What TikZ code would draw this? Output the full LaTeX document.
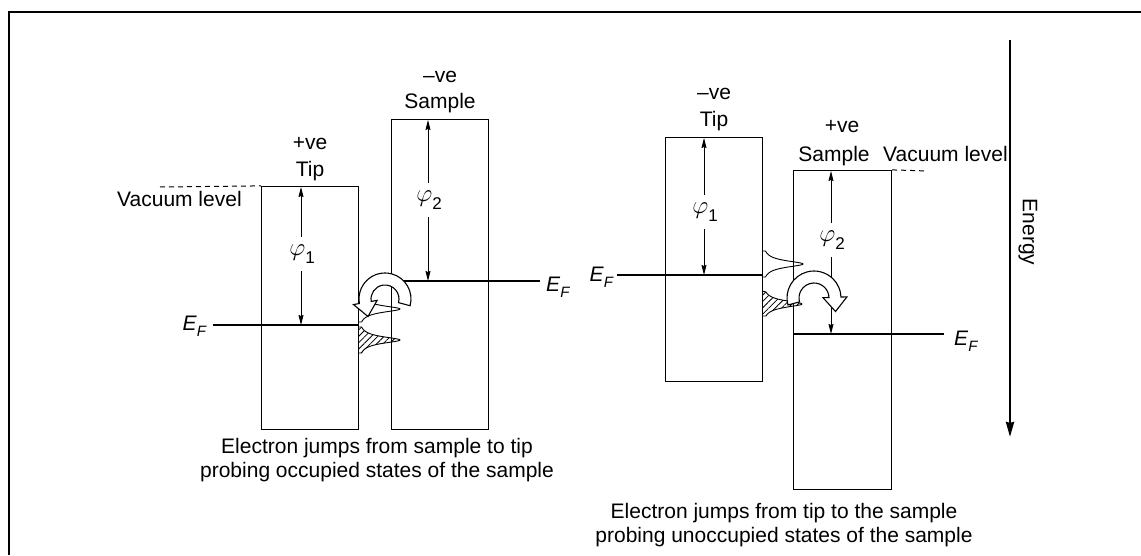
\documentclass[tikz,border=0pt]{standalone}
\usepackage{fontspec}
\setmainfont{Liberation Sans}
\usetikzlibrary{arrows.meta,patterns.meta}
\newcommand{\EFlab}{\textit{E}\raisebox{-0.28em}{\fontsize{15}{15}\selectfont\textit{F}}}
\newcommand{\philab}[1]{{\fontsize{28}{28}\selectfont$\varphi$}\raisebox{-0.35em}{\fontsize{17}{17}\selectfont #1}}
\begin{document}
\begin{tikzpicture}[x=1pt,y=1pt,
  font=\fontsize{21}{24.5}\selectfont,
  band/.style={draw=black,line width=1.1pt},
  lvl/.style={draw=black,line width=1.1pt},
  vac/.style={draw=black,line width=1pt,dash pattern=on 5pt off 4pt},
  txt/.style={inner sep=0pt,anchor=base},
  philabel/.style={inner sep=0pt,minimum height=34pt,minimum width=14pt},
  phiarr/.style={draw=black,line width=0.9pt,-{Stealth[length=10pt,width=5pt,inset=1pt]}},
  dos/.style={draw=black,line width=0.9pt},
  hatch/.style={pattern={Lines[angle=45,distance=4.5pt,line width=0.8pt]}},
  curvarr/.style={draw=black,line width=1.1pt,fill=white,line join=miter},
  energyarr/.style={draw=black,line width=2.6pt,-{Stealth[length=15pt,width=8pt,inset=1pt]}}
]
\useasboundingbox (0,0) rectangle (1141,555);
% frame (top and left edges)
\draw[line width=1.4pt] (9,0) -- (9,543) -- (1141,543);

% ================= LEFT PANEL =================
\node[band,inner sep=0pt,minimum width=97pt,minimum height=243pt,anchor=south west] (tipL) at (261,125) {};
\node[band,inner sep=0pt,minimum width=97pt,minimum height=310pt,anchor=south west] (smpL) at (391,125) {};
\node[txt] (pveL) at (310,405) {+ve};
\node[txt] (tipLtxt) at (310,378) {Tip};
\node[txt] (nveL) at (440,472) {–ve};
\node[txt] (smpLtxt) at (440,446) {Sample};
\node[txt,anchor=base west] (vacLtxt) at (117,348) {Vacuum level};
\coordinate (vacLstart) at (160,368);
\draw[vac] (vacLstart) -- (tipL.north west);
% Fermi levels
\node[txt,anchor=base east] (efLt) at (207,224) {\EFlab};
\coordinate (efLtA) at (213,230);
\coordinate (efLtB) at (358,230);
\draw[lvl] (efLtA) -- (efLtB);
\coordinate (efLsA) at (391,274);
\coordinate (efLsB) at (540,274);
\draw[lvl] (efLsA) -- (efLsB);
\node[txt,anchor=base west] (efLs) at (546,263) {\EFlab};
% work functions
\node[philabel] (phi1L) at (302,301) {\philab{1}};
\coordinate (phi1Ltop) at (301,368);
\coordinate (phi1Lbot) at (301,230);
\draw[phiarr] (phi1L.north -| phi1Ltop) -- (phi1Ltop);
\draw[phiarr] (phi1L.south -| phi1Lbot) -- (phi1Lbot);
\node[philabel] (phi2L) at (429,355) {\philab{2}};
\coordinate (phi2Ltop) at (428,435);
\coordinate (phi2Lbot) at (428,274);
\draw[phiarr] (phi2L.north -| phi2Ltop) -- (phi2Ltop);
\draw[phiarr] (phi2L.south -| phi2Lbot) -- (phi2Lbot);
% density of states peaks
\draw[dos] (358,259) -- plot[domain=-13:13,samples=80,variable=\t] ({358+42/(1+(\t/4)^2)},{246-\t}) -- (358,233);
\fill[hatch] (358,228) -- plot[domain=-13:13,samples=80,variable=\t] ({358+42/(1+(\t/4)^2)},{215-\t}) -- (358,202) -- cycle;
\draw[dos] (358,228) -- plot[domain=-13:13,samples=80,variable=\t] ({358+42/(1+(\t/4)^2)},{215-\t}) -- (358,202);
% curved arrow: sample -> tip
\begin{scope}[shift={(385,256)}]
\draw[curvarr] (-15:26) arc[start angle=-15,end angle=190,radius=26] -- (190:32) -- (-17.0,-17.5) -- (190:8) -- (190:14) arc[start angle=190,end angle=-15,radius=14] -- cycle;
\end{scope}
\node[inner sep=0pt,anchor=north,align=center] (capL) at (377,117) {Electron jumps from sample to tip\\probing occupied states of the sample};

% ================= RIGHT PANEL =================
\node[band,inner sep=0pt,minimum width=97pt,minimum height=244pt,anchor=south west] (tipR) at (665,173) {};
\node[band,inner sep=0pt,minimum width=98pt,minimum height=319pt,anchor=south west] (smpR) at (793,65) {};
\node[txt] (nveR) at (714,455) {–ve};
\node[txt] (tipRtxt) at (714,428) {Tip};
\node[txt] (pveR) at (842,422) {+ve};
\node[txt] (smpRtxt) at (834,393) {Sample};
\node[txt,anchor=base west] (vacRtxt) at (883,393) {Vacuum level};
\coordinate (vacRend) at (928,384);
\draw[vac] (smpR.north east) -- (vacRend);
\node[txt,anchor=base east] (efRt) at (614,273) {\EFlab};
\coordinate (efRtA) at (617,280);
\coordinate (efRtB) at (762,280);
\draw[lvl] (efRtA) -- (efRtB);
\coordinate (efRsA) at (793,221);
\coordinate (efRsB) at (944,221);
\draw[lvl] (efRsA) -- (efRsB);
\node[txt,anchor=base west] (efRs) at (954,209) {\EFlab};
\node[philabel] (phi1R) at (705,343) {\philab{1}};
\coordinate (phi1Rtop) at (704,417);
\coordinate (phi1Rbot) at (704,280);
\draw[phiarr] (phi1R.north -| phi1Rtop) -- (phi1Rtop);
\draw[phiarr] (phi1R.south -| phi1Rbot) -- (phi1Rbot);
\node[philabel] (phi2R) at (832,315) {\philab{2}};
\coordinate (phi2Rtop) at (831,384);
\coordinate (phi2Rbot) at (831,221);
\draw[phiarr] (phi2R.north -| phi2Rtop) -- (phi2Rtop);
\draw[phiarr] (phi2R.south -| phi2Rbot) -- (phi2Rbot);
\draw[dos] (762,304) -- plot[domain=-13:13,samples=80,variable=\t] ({762+41/(1+(\t/4)^2)},{291-\t}) -- (762,278);
\fill[hatch] (762,264) -- plot[domain=-12:12,samples=80,variable=\t] ({762+40/(1+(\t/4)^2)},{251-\t}) -- (762,239) -- cycle;
\draw[dos] (762,264) -- plot[domain=-12:12,samples=80,variable=\t] ({762+40/(1+(\t/4)^2)},{251-\t}) -- (762,239);
% curved arrow: tip -> sample
\begin{scope}[shift={(814,257)}]
\draw[curvarr] (195:27) arc[start angle=195,end angle=2,radius=27] -- (2:33) -- (21.5,-13.5) -- (2:9) -- (2:15) arc[start angle=2,end angle=195,radius=15] -- cycle;
\end{scope}
\node[inner sep=0pt,anchor=north,align=center] (capR) at (784,52) {Electron jumps from tip to the sample\\probing unoccupied states of the sample};

% energy axis
\coordinate (enTop) at (1010,515);
\coordinate (enBot) at (1010,118);
\draw[energyarr] (enTop) -- (enBot);
\node[inner sep=0pt,rotate=-90] (energy) at (1028,323) {Energy};
\end{tikzpicture}
\end{document}
